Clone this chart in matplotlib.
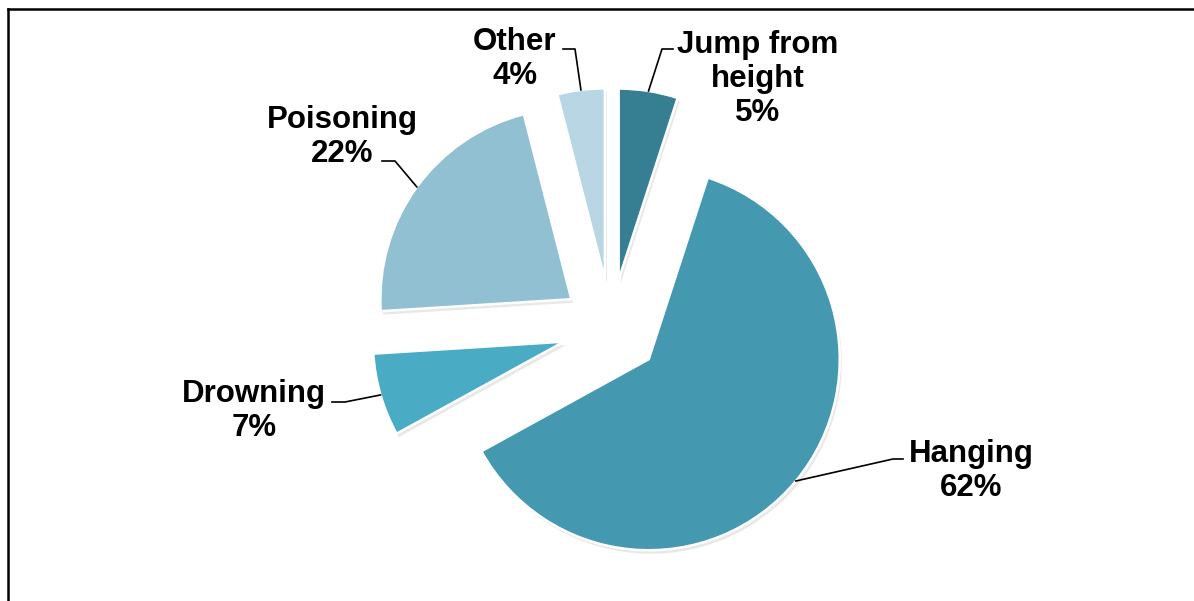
import matplotlib
matplotlib.use('Agg')
import matplotlib.pyplot as plt
import matplotlib.patheffects as pe
from matplotlib.lines import Line2D
import numpy as np

# data
categories = ['Jump from\nheight', 'Hanging', 'Drowning', 'Poisoning', 'Other']
shares = [5, 62, 7, 22, 4]
colors = ['#367F93', '#4499B1', '#4AABC5', '#92C0D3', '#B8D6E3']

# layout (pixel-ish units, y up)
W, H = 1194, 601
center = (611, 273)
radius = 191
offset = 49
label_pos = [(758, 522), (971, 130), (254, 190), (342, 464), (515, 542)]
elbow = [((662, 552), (673, 552)), ((893, 142), (903, 142)),
         ((345, 199), (332, 199)), ((395, 440), (382, 440)),
         ((575, 552), (563, 552))]

plt.rcParams['font.family'] = ['Liberation Sans', 'DejaVu Sans']

fig = plt.figure(figsize=(W / 100, H / 100), dpi=100)
ax = fig.add_axes([0, 0, 1, 1])

wedges, _ = ax.pie(shares, colors=colors, startangle=90, counterclock=False,
                   explode=[offset] * len(shares), radius=radius, center=center,
                   wedgeprops=dict(edgecolor='white', linewidth=1.8))
for w in wedges:
    w.set_path_effects([pe.SimplePatchShadow(offset=(1.5, -2.5), shadow_rgbFace='#999999', alpha=0.22),
                        pe.Normal()])

ax.set_xlim(0, W)
ax.set_ylim(0, H)
ax.set_aspect('equal')
ax.axis('off')

for w, cat, pct, pos, (e1, e2) in zip(wedges, categories, shares, label_pos, elbow):
    mid = np.deg2rad((w.theta1 + w.theta2) / 2)
    cx, cy = w.center
    start = (cx + w.r * np.cos(mid), cy + w.r * np.sin(mid))
    ax.plot([start[0], e1[0], e2[0]], [start[1], e1[1], e2[1]],
            color='black', lw=1.2, zorder=5)
    ax.text(pos[0], pos[1], f'{cat}\n{pct}%', ha='center', va='center',
            fontsize=22.5, fontweight='bold', linespacing=1.18, color='black')

# chart border (left and top)
fig.add_artist(Line2D([8 / W, 8 / W], [0, 1 - 9 / H], transform=fig.transFigure,
                      color='black', lw=1.8))
fig.add_artist(Line2D([8 / W, 1], [1 - 9 / H, 1 - 9 / H], transform=fig.transFigure,
                      color='black', lw=1.8))

fig.savefig('out.png', dpi=100)
